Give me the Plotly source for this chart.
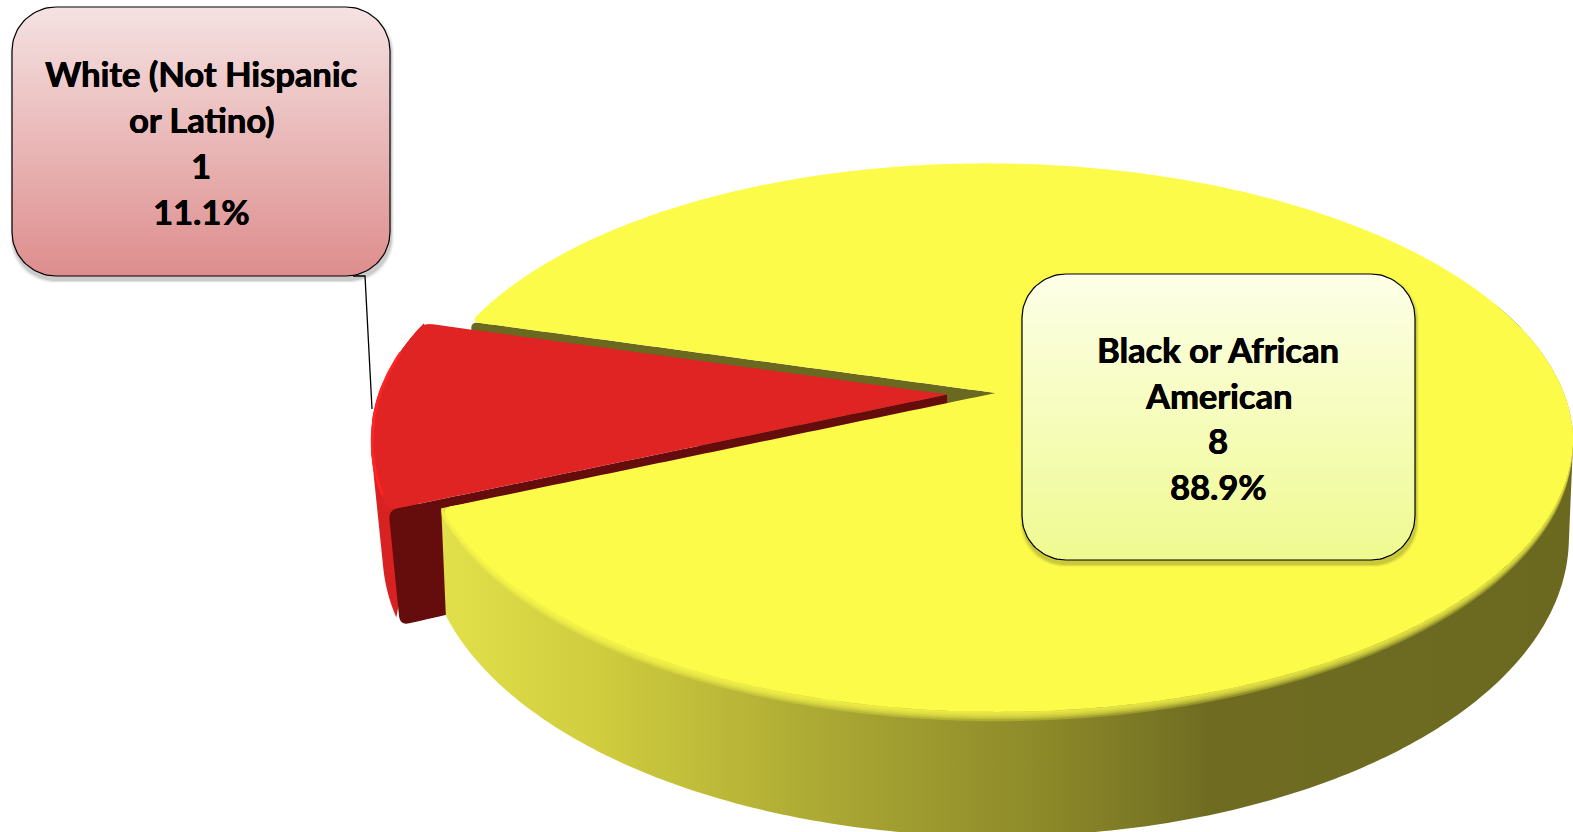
import numpy as np
import plotly.graph_objects as go

categories = ["White (Not Hispanic or Latino)", "Black or African American"]
values = [1, 8]
percent_labels = ["11.1%", "88.9%"]
label_lines = [["White (Not Hispanic", "or Latino)"], ["Black or African", "American"]]

W, H = 1573, 832
START = 156.2          # angle where the first slice begins
EXPLODE = 0.086
TOP = dict(cx=997.5, y0=393, a=568, b=267, k=0.1627, sy=437, s=0.04)
BOT = dict(cx=997.5, y0=490, a=564, b=291, k=0.16, sy=535, s=0.04)
RED_BOT = dict(BOT, y0=498, a=558)

YELLOW = "#FDFB4A"
RED = "#E02323"
MAROON = "#650C0C"
OLIVE = "#6B6820"

spans = [v / sum(values) * 360 for v in values]
red0, red1 = START, START + spans[0]
yel0, yel1 = red1, red1 + spans[1]
mid = np.radians((red0 + red1) / 2)
off = (EXPLODE * np.cos(mid), EXPLODE * np.sin(mid))


def proj(X, Y, p):
    X, Y = np.asarray(X, float), np.asarray(Y, float)
    w = 1 - p["k"] * Y
    sy = p["y0"] + p["b"] * Y / w
    return p["cx"] + p["a"] * X / w + p["s"] * np.minimum(sy - p["sy"], 0), sy


def arc(t0, t1, p, o=(0, 0), n=240):
    t = np.radians(np.linspace(t0, t1, n))
    return proj(np.cos(t) + o[0], np.sin(t) + o[1], p)


def poly(x, y, **kw):
    kw.setdefault("line", dict(width=0, simplify=False))
    return go.Scatter(x=list(x), y=list(y), mode="lines", fill="toself",
                      hoverinfo="skip", showlegend=False, **kw)


def join(*parts):
    return (np.concatenate([np.atleast_1d(q[0]) for q in parts]),
            np.concatenate([np.atleast_1d(q[1]) for q in parts]))


def seg(p, q, n=60):
    """Straight edge from p to q as many points, so its corners can be eased."""
    return (np.linspace(p[0], q[0], n), np.linspace(p[1], q[1], n))


def hull(x, y):
    """Convex outline of the two rims: the silhouette of an outer wall."""
    pts = sorted(set(zip(np.round(x, 3).tolist(), np.round(y, 3).tolist())))

    def half(seq):
        out = []
        for p in seq:
            while len(out) >= 2 and ((out[-1][0] - out[-2][0]) * (p[1] - out[-2][1])
                                     - (out[-1][1] - out[-2][1]) * (p[0] - out[-2][0])) <= 0:
                out.pop()
            out.append(p)
        return out[:-1]

    ring = half(pts) + half(pts[::-1])
    ring.append(ring[0])
    return [p[0] for p in ring], [p[1] for p in ring]


def ease(x, y, corner, r):
    """Replace the sharp vertex nearest to corner by a small quadratic curve (closed outline)."""
    n = len(x)
    i = int(np.argmin((x - corner[0]) ** 2 + (y - corner[1]) ** 2))
    j = i
    for _ in range(n):
        j = (j - 1) % n
        if np.hypot(x[j] - x[i], y[j] - y[i]) >= r:
            break
    k = i
    for _ in range(n):
        k = (k + 1) % n
        if np.hypot(x[k] - x[i], y[k] - y[i]) >= r:
            break
    t = np.linspace(0, 1, 12)
    cx_ = (1 - t) ** 2 * x[j] + 2 * t * (1 - t) * x[i] + t ** 2 * x[k]
    cy_ = (1 - t) ** 2 * y[j] + 2 * t * (1 - t) * y[i] + t ** 2 * y[k]
    order = [(k + m) % n for m in range((j - k) % n + 1)]
    return np.concatenate([x[order], cx_]), np.concatenate([y[order], cy_])


def rounded(l, t, r, b, rad, grow=0.0):
    l, t, r, b = l - grow, t - grow, r + grow, b + grow
    a = np.linspace(0, np.pi / 2, 24)
    xs = np.concatenate([r - rad + rad * np.sin(a), r - rad + rad * np.cos(a),
                         l + rad - rad * np.sin(a), l + rad - rad * np.cos(a)])
    ys = np.concatenate([t + rad - rad * np.cos(a), b - rad + rad * np.sin(a),
                         b - rad + rad * np.cos(a), t + rad - rad * np.sin(a)])
    return np.append(xs, xs[0]), np.append(ys, ys[0])


fig = go.Figure()

# Wall of the yellow slice seen through the gap
ax, ay = proj(0, 0, TOP)
bx, by = proj(0, 0, BOT)
ux, uy = arc(yel0, yel0, TOP, n=1)
vx, vy = arc(yel0, yel0, BOT, n=1)
wall = join(seg((ax, ay), (ux[0], uy[0])), seg((ux[0], uy[0]), (vx[0], vy[0])),
            seg((vx[0], vy[0]), (bx, by)))
wall = ease(wall[0][:-1], wall[1][:-1], (ux[0], uy[0]), 6)
fig.add_trace(poly(*wall, fillcolor=OLIVE))

# Exploded red slice
r_top = arc(red0, red1, TOP, off)
r_bot = arc(red0, red1, RED_BOT, off)
fig.add_trace(poly(*hull(*join(arc(red0 + 1.5, red1, TOP, off), arc(red0 + 1.5, red1, RED_BOT, off))),
                   fillcolor="#D82121"))
rax, ray = proj(off[0], off[1], TOP)
rbx, rby = proj(off[0], off[1], RED_BOT)
c_top = (r_top[0][0], r_top[1][0])
c_bot = (r_bot[0][0], r_bot[1][0])
rw = join(seg((rax, ray), c_top), seg(c_top, c_bot), seg(c_bot, (rbx, rby)))
rw = ease(rw[0], rw[1], c_bot, 8)
rw = ease(rw[0], rw[1], c_top, 8)
fig.add_trace(poly(*rw, fillcolor=MAROON))
end_top = (r_top[0][-1], r_top[1][-1])
r_face = join(seg((rax, ray), c_top), (r_top[0][1:-1], r_top[1][1:-1]), seg(end_top, (rax, ray)))
r_face = ease(r_face[0][:-1], r_face[1][:-1], c_top, 8)
r_face = ease(r_face[0], r_face[1], end_top, 6)
fig.add_trace(poly(*r_face, fillcolor=RED))
rim_hi = arc(red0 + 3, red1 - 7, dict(TOP, a=TOP["a"] - 1), off)
fig.add_trace(go.Scatter(x=list(rim_hi[0]), y=list(rim_hi[1]), mode="lines",
                         line=dict(color="#FF2424", width=3), hoverinfo="skip", showlegend=False))

# Yellow slice: outer wall, soft edge, top face
fig.add_trace(poly(*hull(*join(arc(340, yel1, TOP), arc(340, yel1, BOT))), fillcolor=OLIVE,
                   fillgradient=dict(type="horizontal", start=443, stop=1573, colorscale=[
                       [0.0, "#E2E04A"], [0.14, "#CFCC3E"], [0.34, "#ABA834"],
                       [0.54, "#8B8829"], [0.68, "#6F6C22"], [1.0, OLIVE]])))
y_top = arc(yel1, 345, TOP)
y_bot = arc(yel1, 345, BOT)
for f in (0.012, 0.024, 0.036, 0.048, 0.06, 0.075):
    ex = y_top[0] + f * (y_bot[0] - y_top[0])
    ey = y_top[1] + f * (y_bot[1] - y_top[1])
    fig.add_trace(poly(*join(y_top, (ex[::-1], ey[::-1])), fillcolor="rgba(253,251,74,0.25)"))

t_arc = arc(yel0, yel1, TOP, n=480)
t_face = join(seg((ax, ay), (t_arc[0][0], t_arc[1][0])), (t_arc[0][1:-1], t_arc[1][1:-1]),
              seg((t_arc[0][-1], t_arc[1][-1]), (ax, ay)))
t_face = ease(t_face[0][:-1], t_face[1][:-1], (t_arc[0][-1], t_arc[1][-1]), 8)
t_face = ease(t_face[0], t_face[1], (t_arc[0][0], t_arc[1][0]), 6)
fig.add_trace(poly(*t_face, fillcolor=YELLOW))


def callout(box, rad, colors):
    l, t, r, b = box
    for g, al in ((3, 0.04), (2, 0.07), (1, 0.1)):
        sx, sy = rounded(l + 1, t + 4, r + 1, b + 4, rad, g)
        fig.add_trace(poly(sx, sy, fillcolor=f"rgba(0,0,0,{al})"))
    bx_, by_ = rounded(l, t, r, b, rad)
    fig.add_trace(poly(bx_, by_, fillcolor=colors[0], line=dict(color="black", width=1.2),
                       fillgradient=dict(type="vertical", start=t, stop=b,
                                         colorscale=[[0, colors[0]], [1, colors[1]]])))


callout((12, 7, 390, 276), 44, ("#F5E2E2", "#DE8D8D"))
callout((1022, 274, 1415, 560), 44, ("#FDFFE8", "#EFFA90"))

fig.add_trace(go.Scatter(x=[353, 365, 372], y=[276, 276, 409], mode="lines",
                         line=dict(color="black", width=1.3), hoverinfo="skip", showlegend=False))

text_blocks = [(201, [73.5, 119.5, 165, 211], 0), (1218, [349, 395, 440, 486], 1)]
for cx, ys, i in text_blocks:
    lines = label_lines[i] + [str(values[i]), percent_labels[i]]
    for yy, s in zip(ys, lines):
        fig.add_annotation(x=cx, y=yy, xref="x", yref="y", text=f"<b>{s}</b>", showarrow=False,
                           xanchor="center", yanchor="middle",
                           font=dict(family="Lato", size=34.5, color="black",
                                     shadow="0.5px 0 0 black, -0.3px 0 0 black"))

fig.update_layout(
    width=W, height=H, margin=dict(l=0, r=0, t=0, b=0), paper_bgcolor="white", plot_bgcolor="white",
    showlegend=False,
    xaxis=dict(range=[0, W], visible=False, fixedrange=True),
    yaxis=dict(range=[H, 0], visible=False, fixedrange=True),
)
fig.write_html("out.html", config={"displayModeBar": False},
               post_script="document.body.style.margin='0';document.body.style.overflow='hidden';")
